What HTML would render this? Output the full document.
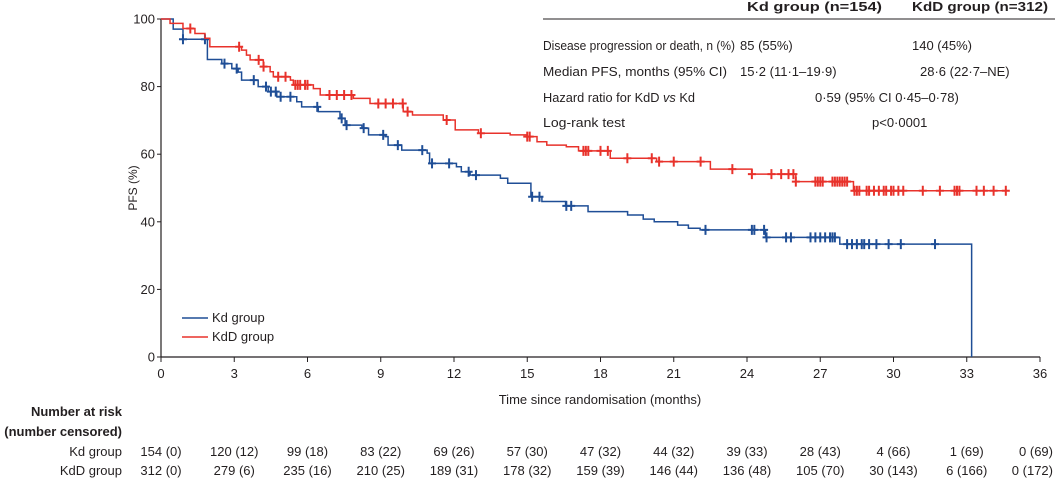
<!DOCTYPE html>
<html><head><meta charset="utf-8"><style>
html,body{margin:0;padding:0;background:#fff;}
svg{display:block;font-family:"Liberation Sans",sans-serif;}
text{fill:#231f20;}
</style></head><body>
<svg id="chart" width="1055" height="478" viewBox="0 0 1055 478">
<g id="axes"></g>
<g id="curves"></g>
<g font-size="13">
<text x="747" y="11" font-weight="bold" textLength="135" lengthAdjust="spacingAndGlyphs">Kd group (n=154)</text>
<text x="912" y="11" font-weight="bold" textLength="136" lengthAdjust="spacingAndGlyphs">KdD group (n=312)</text>
<line x1="543" y1="19" x2="1055" y2="19" stroke="#231f20" stroke-width="1"/>
<text x="543" y="50" textLength="192" lengthAdjust="spacingAndGlyphs">Disease progression or death, n (%)</text>
<text x="740" y="50">85 (55%)</text>
<text x="912" y="50">140 (45%)</text>
<text x="543" y="76" textLength="184" lengthAdjust="spacingAndGlyphs">Median PFS, months (95% CI)</text>
<text x="740" y="76">15·2 (11·1–19·9)</text>
<text x="920" y="76">28·6 (22·7–NE)</text>
<text x="543" y="102" textLength="152" lengthAdjust="spacingAndGlyphs">Hazard ratio for KdD <tspan font-style="italic">vs</tspan> Kd</text>
<text x="815" y="102">0·59 (95% CI 0·45–0·78)</text>
<text x="543" y="127" textLength="82" lengthAdjust="spacingAndGlyphs">Log-rank test</text>
<text x="872" y="127">p&lt;0·0001</text>
</g>
<g font-size="13">
<line x1="182" y1="318" x2="208" y2="318" stroke="#1f4e96" stroke-width="1.5"/>
<text x="212" y="322">Kd group</text>
<line x1="182" y1="337" x2="208" y2="337" stroke="#e8322b" stroke-width="1.5"/>
<text x="212" y="341">KdD group</text>
</g>
<g id="risk" font-size="13">
<text x="122" y="416" text-anchor="end" font-weight="bold">Number at risk</text>
<text x="122" y="436" text-anchor="end" font-weight="bold">(number censored)</text>
<text x="122" y="456" text-anchor="end">Kd group</text>
<text x="122" y="475" text-anchor="end">KdD group</text>
</g>
</svg>
<script>
const xTicks=[0,3,6,9,12,15,18,21,24,27,30,33,36];
const yTicks=[0,20,40,60,80,100];
const kdTimes=[0,0.5,0.9,1.9,2.49,2.9,3.16,3.3,3.98,4.39,4.74,5.56,5.76,6.44,7.33,7.54,8.23,8.5,9.18,9.3,9.86,10.9,11.0,12.1,12.3,12.66,13.9,14.2,15.15,15.6,16.57,17.49,19.11,19.75,20.2,21.16,21.6,22.08,24.76,27.8];
const kdSurv=[100,97,94,88,86.8,85.3,84.3,81.9,80,78.5,77,75.5,74,72.6,70.6,68.6,67.7,65.7,65.2,62.7,61.2,60.3,57.3,56.3,54.8,53.8,52.9,51.4,47.4,46,44.7,43,42,40.8,40,39,38.1,37.6,35.4,33.4];
const kdEnd=33.2;
const kdCensor=[0.9,1.8,2.6,3.1,3.8,4.3,4.5,4.7,4.9,5.3,6.4,7.4,7.6,8.3,9.1,9.7,10.7,11.1,11.8,12.6,12.9,15.2,15.5,16.6,16.8,22.3,24.2,24.3,24.7,24.8,25.6,25.8,26.6,26.8,27.0,27.2,27.4,27.5,27.6,28.1,28.3,28.5,28.7,28.8,29.0,29.3,29.8,30.3,31.7];
const kddTimes=[0,0.37,0.9,1.39,1.8,2.0,3.3,3.5,3.65,4.19,4.47,4.6,5.3,5.42,6.24,6.52,7.88,8.56,9.92,10.3,11.56,12.05,13.0,14.3,15.0,15.4,15.8,16.6,17.1,18.4,20.3,22.5,24.2,26.0,28.36];
const kddSurv=[100,98.7,97.2,95.7,94.3,91.8,90.8,89.3,87.9,85.9,84.4,82.9,81.9,80.5,79.4,77.5,76.5,75,72.6,71.6,70.1,67.2,66.2,65.7,65.2,63.7,62.7,62.2,61,58.8,57.8,55.6,54.1,51.9,49.2];
const kddEnd=34.6;
const kddCensor=[1.2,3.2,4.0,4.2,4.8,5.1,5.5,5.6,5.7,5.9,6.0,6.9,7.2,7.5,7.8,8.9,9.2,9.5,9.9,10.1,11.7,13.1,15.0,15.1,17.3,17.4,17.5,18.0,18.3,19.1,20.1,20.4,21.0,22.1,23.4,24.2,25.0,25.4,25.7,25.9,26.0,26.8,26.9,27.0,27.1,27.5,27.6,27.7,27.8,27.9,28.0,28.1,28.4,28.5,28.6,28.9,29.0,29.2,29.4,29.6,29.7,29.9,30.0,30.2,30.4,31.2,31.9,32.5,32.6,32.7,33.4,33.7,34.1,34.6];
const kdRisk=["154 (0)","120 (12)","99 (18)","83 (22)","69 (26)","57 (30)","47 (32)","44 (32)","39 (33)","28 (43)","4 (66)","1 (69)","0 (69)"];
const kddRisk=["312 (0)","279 (6)","235 (16)","210 (25)","189 (31)","178 (32)","159 (39)","146 (44)","136 (48)","105 (70)","30 (143)","6 (166)","0 (172)"];

const NS="http://www.w3.org/2000/svg";
const X0=161,X1=1040,Y0=357,Y1=19;
const sx=t=>X0+(X1-X0)*t/36;
const sy=v=>Y0-(Y0-Y1)*v/100;
function mk(tag,attrs,parent,txt){const e=document.createElementNS(NS,tag);for(const k in attrs)e.setAttribute(k,attrs[k]);if(txt!==undefined)e.textContent=txt;parent.appendChild(e);return e;}
const axes=document.getElementById('axes'),curves=document.getElementById('curves'),risk=document.getElementById('risk');
let a=mk('line',{x1:X0,y1:Y1,x2:X0,y2:Y0,stroke:'#231f20','stroke-width':1.2},axes);


a=mk('line',{x1:X0,y1:Y0,x2:X1,y2:Y0,stroke:'#231f20','stroke-width':1.2},axes);


yTicks.forEach(v=>{
  let t=mk('line',{x1:X0-4,x2:X0,y1:sy(v),y2:sy(v),stroke:'#231f20'},axes);
  
  
  let l=mk('text',{x:X0-6,y:sy(v)+4.5,'text-anchor':'end','font-size':13},axes,v);
  
  
});
xTicks.forEach((v,i)=>{
  const last=(i===xTicks.length-1);
  let t=mk('line',{x1:sx(v),x2:sx(v),y1:Y0,y2:Y0+5,stroke:'#231f20'},axes);
  
  
  let l=mk('text',{x:sx(v),y:378,'text-anchor':'middle','font-size':13},axes,v);
  
  
  const rx=last?1053:sx(v), anc=last?'end':'middle';
  let r1=mk('text',{x:rx,y:456,'text-anchor':anc,'font-size':13},risk,kdRisk[i]);
  
  
  let r2=mk('text',{x:rx,y:475,'text-anchor':anc,'font-size':13},risk,kddRisk[i]);
  
  
});
let yt=mk('text',{x:137,y:188,'text-anchor':'middle','font-size':12,transform:'rotate(-90 137 188)'},axes,'PFS (%)');


let xt=mk('text',{x:600,y:404,'text-anchor':'middle','font-size':13},axes,'Time since randomisation (months)');



function survAt(times,surv,t){let v=surv[0];for(let i=0;i<times.length;i++){if(times[i]<=t)v=surv[i];}return v;}
function drawCurve(times,surv,end,cens,color,name,dropToZero){
  let d='M'+sx(times[0])+','+sy(surv[0]);
  for(let i=1;i<times.length;i++){d+='H'+sx(times[i])+'V'+sy(surv[i]);}
  d+='H'+sx(end);
  if(dropToZero)d+='V'+sy(0);
  let p=mk('path',{d:d,fill:'none',stroke:color,'stroke-width':1.5},curves);
  
  
  cens.forEach(t=>{
    const v=survAt(times,surv,t);
    let c=mk('path',{d:'M'+(sx(t)-4)+','+sy(v)+'H'+(sx(t)+4)+'M'+sx(t)+','+(sy(v)-5)+'V'+(sy(v)+5),stroke:color,'stroke-width':2,fill:'none'},curves);
    
    
  });
}
drawCurve(kdTimes,kdSurv,kdEnd,kdCensor,'#1f4e96','kd',true);
drawCurve(kddTimes,kddSurv,kddEnd,kddCensor,'#e8322b','kdd',false);
</script>
</body></html>
